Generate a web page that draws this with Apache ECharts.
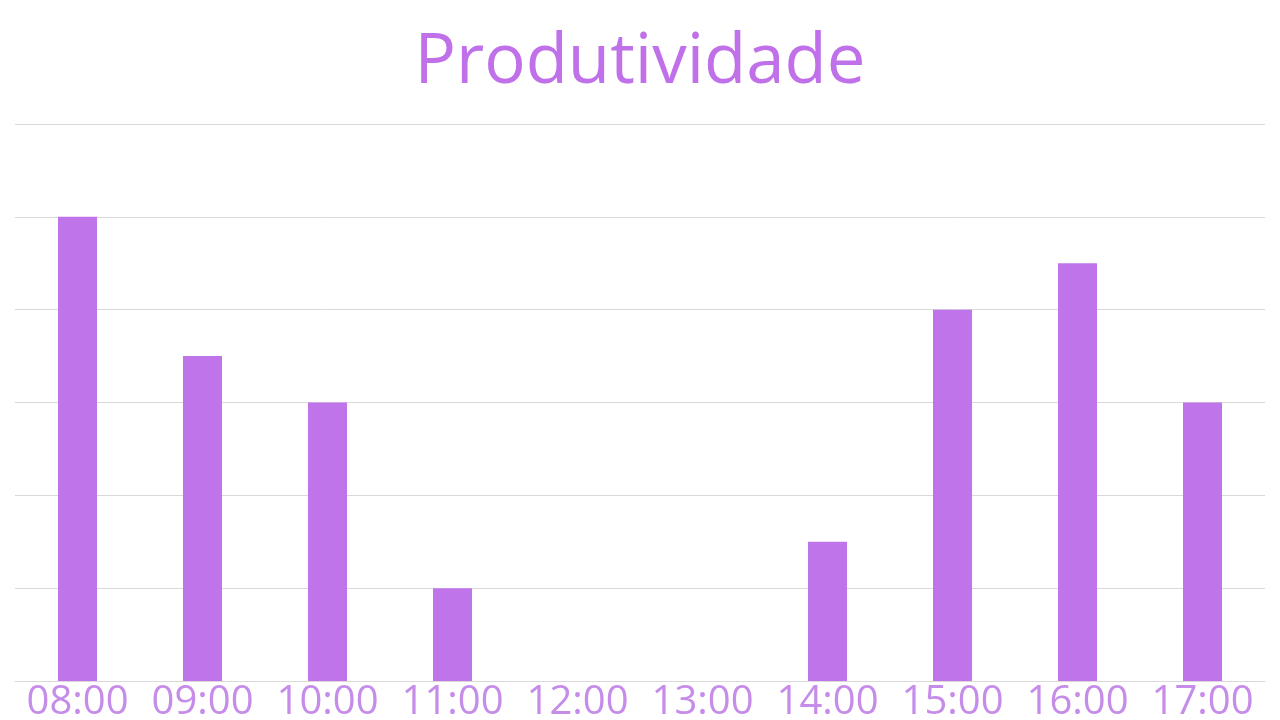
<!DOCTYPE html>
<html><head><meta charset="utf-8">
<script src="https://cdn.jsdelivr.net/npm/echarts@6/dist/echarts.min.js"></script>
<style>html,body{margin:0;padding:0;background:#fff}#c{width:1280px;height:720px}</style>
</head><body><div id="c"></div>
<script>
const categories = ['08:00','09:00','10:00','11:00','12:00','13:00','14:00','15:00','16:00','17:00'];
const values = [5, 3.5, 3, 1, 0, 0, 1.5, 4, 4.5, 3];
const chart = echarts.init(document.getElementById('c'));
chart.setOption({
  animation: false,
  title: {
    text: 'Produtividade', left: 'center', top: 24,
    textStyle: { fontFamily: 'Open Sans', fontSize: 69, fontWeight: 'normal', color: '#c070e8' }
  },
  grid: { left: 15, right: 15, top: 124, bottom: 39, containLabel: false, outerBoundsMode: 'none' },
  xAxis: {
    type: 'category', data: categories,
    axisLine: { lineStyle: { color: '#d9d9d9', width: 1 } },
    axisTick: { show: false },
    axisLabel: { fontFamily: 'Open Sans', fontSize: 40, color: '#c68ce9', margin: 2, interval: 0 }
  },
  yAxis: {
    type: 'value', min: 0, max: 6, interval: 1,
    axisLabel: { show: false }, axisLine: { show: false }, axisTick: { show: false },
    splitLine: { lineStyle: { color: '#d9d9d9', width: 1 } }
  },
  series: [{
    type: 'bar', data: values, barWidth: 39,
    itemStyle: { color: '#c074ea' }
  }]
});
</script></body></html>
